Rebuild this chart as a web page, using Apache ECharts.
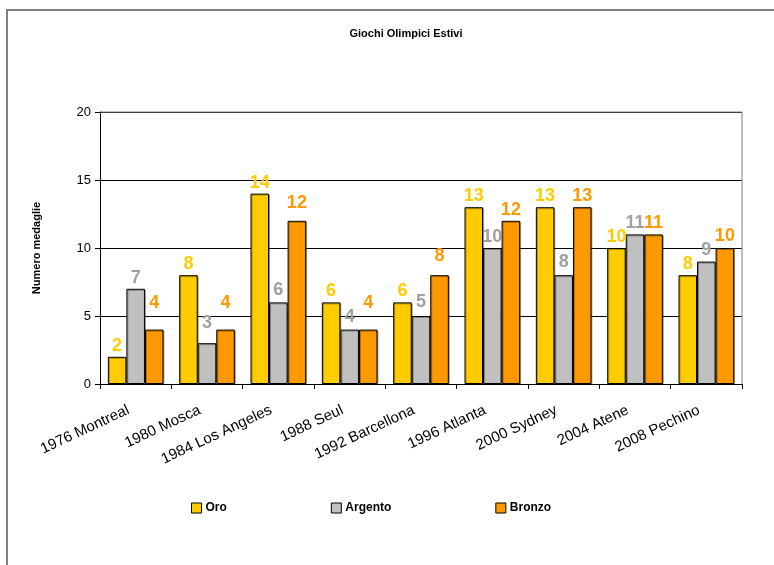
<!DOCTYPE html>
<html>
<head>
<meta charset="utf-8">
<script src="https://cdn.jsdelivr.net/npm/echarts@6/dist/echarts.min.js"></script>
<style>
html,body{margin:0;padding:0;background:#fff;}
#c{width:774px;height:565px;}
</style>
</head>
<body>
<div id="c"></div>
<script>
const categories = ['1976 Montreal','1980 Mosca','1984 Los Angeles','1988 Seul','1992 Barcellona','1996 Atlanta','2000 Sydney','2004 Atene','2008 Pechino'];
const oro = [2, 8, 14, 6, 6, 13, 13, 10, 8];
const argento = [7, 3, 6, 4, 5, 10, 8, 11, 9];
const bronzo = [4, 4, 12, 4, 8, 12, 13, 11, 10];
const yTicks = [0, 5, 10, 15, 20];

// extra upward shift (px) of some value labels, as placed in the original
const liftOro = [0, 0, 0, 0, 0, 0, 0, 0, 0];
const liftArgento = [0, 9, 1, 2, 3, 0, 2, 0, 1];
const liftBronzo = [16, 16, 7, 16, 8, 0, 0, 0, 1];

const font = 'Liberation Sans, Arial, sans-serif';
const chart = echarts.init(document.getElementById('c'));

function mk(name, data, lift, color, labelColor) {
  return {
    name: name, type: 'bar',
    data: data.map((v, i) => ({ value: v, label: { offset: [0, -lift[i]] } })),
    barGap: '0%', barCategoryGap: '22%',
    itemStyle: { color: color, borderColor: '#000', borderWidth: 1,
      shadowColor: 'rgba(0,0,0,0.3)', shadowOffsetX: 1, shadowOffsetY: 1, shadowBlur: 0 },
    label: { show: true, position: 'top', distance: 2, color: labelColor,
      fontFamily: font, fontWeight: 'bold', fontSize: 18 },
    animation: false
  };
}

chart.setOption({
  animation: false,
  backgroundColor: '#fff',
  title: { text: 'Giochi Olimpici Estivi', left: 401, top: 23, textAlign: 'center',
    textStyle: { fontFamily: font, fontWeight: 'bold', fontSize: 11, color: '#000' } },
  graphic: [
    { type: 'polyline', shape: { points: [[7, 566], [7, 10], [776, 10]] },
      style: { stroke: '#808080', lineWidth: 2, fill: null } },
    { type: 'polyline', shape: { points: [[100, 112], [742, 112], [742, 384]] },
      style: { stroke: '#808080', lineWidth: 1, fill: null }, z: 1 }
  ],
  legend: {
    data: [{ name: 'Oro' }, { name: 'Argento' }, { name: 'Bronzo' }],
    left: 186, top: 497, itemGap: 104, itemWidth: 10, itemHeight: 10, icon: 'rect',
    itemStyle: { borderColor: '#000', borderWidth: 1 },
    textStyle: { fontFamily: font, fontWeight: 'bold', fontSize: 12, color: '#000', padding: [0, 0, 0, -1] }
  },
  grid: { left: 100, right: 32, top: 112, bottom: 181, containLabel: false },
  xAxis: {
    type: 'category', data: categories,
    axisLine: { lineStyle: { color: '#000', width: 1 } },
    axisTick: { show: true, length: 5, lineStyle: { color: '#000' } },
    axisLabel: { rotate: 25, fontFamily: font, fontSize: 15, color: '#000', margin: 22,
      interval: 0, padding: [0, 8, 0, 0] }
  },
  yAxis: {
    type: 'value', min: 0, max: 20, interval: 5,
    name: 'Numero medaglie', nameLocation: 'middle', nameGap: 58, nameRotate: 90,
    nameTextStyle: { fontFamily: font, fontWeight: 'bold', fontSize: 11, color: '#000' },
    axisLine: { show: true, lineStyle: { color: '#000' } },
    axisTick: { show: true, inside: false, length: 5, lineStyle: { color: '#000' } },
    axisLabel: { fontFamily: font, fontSize: 13, color: '#000', margin: 9,
      formatter: v => yTicks.includes(v) ? String(v) : '' },
    splitLine: { show: true, lineStyle: { color: '#000', width: 1 } }
  },
  series: [
    mk('Oro', oro, liftOro, '#FFCC00', '#FFCC00'),
    mk('Argento', argento, liftArgento, '#C0C0C0', '#A0A0A0'),
    mk('Bronzo', bronzo, liftBronzo, '#FF9900', '#FF9900')
  ]
});
</script>
</body>
</html>
